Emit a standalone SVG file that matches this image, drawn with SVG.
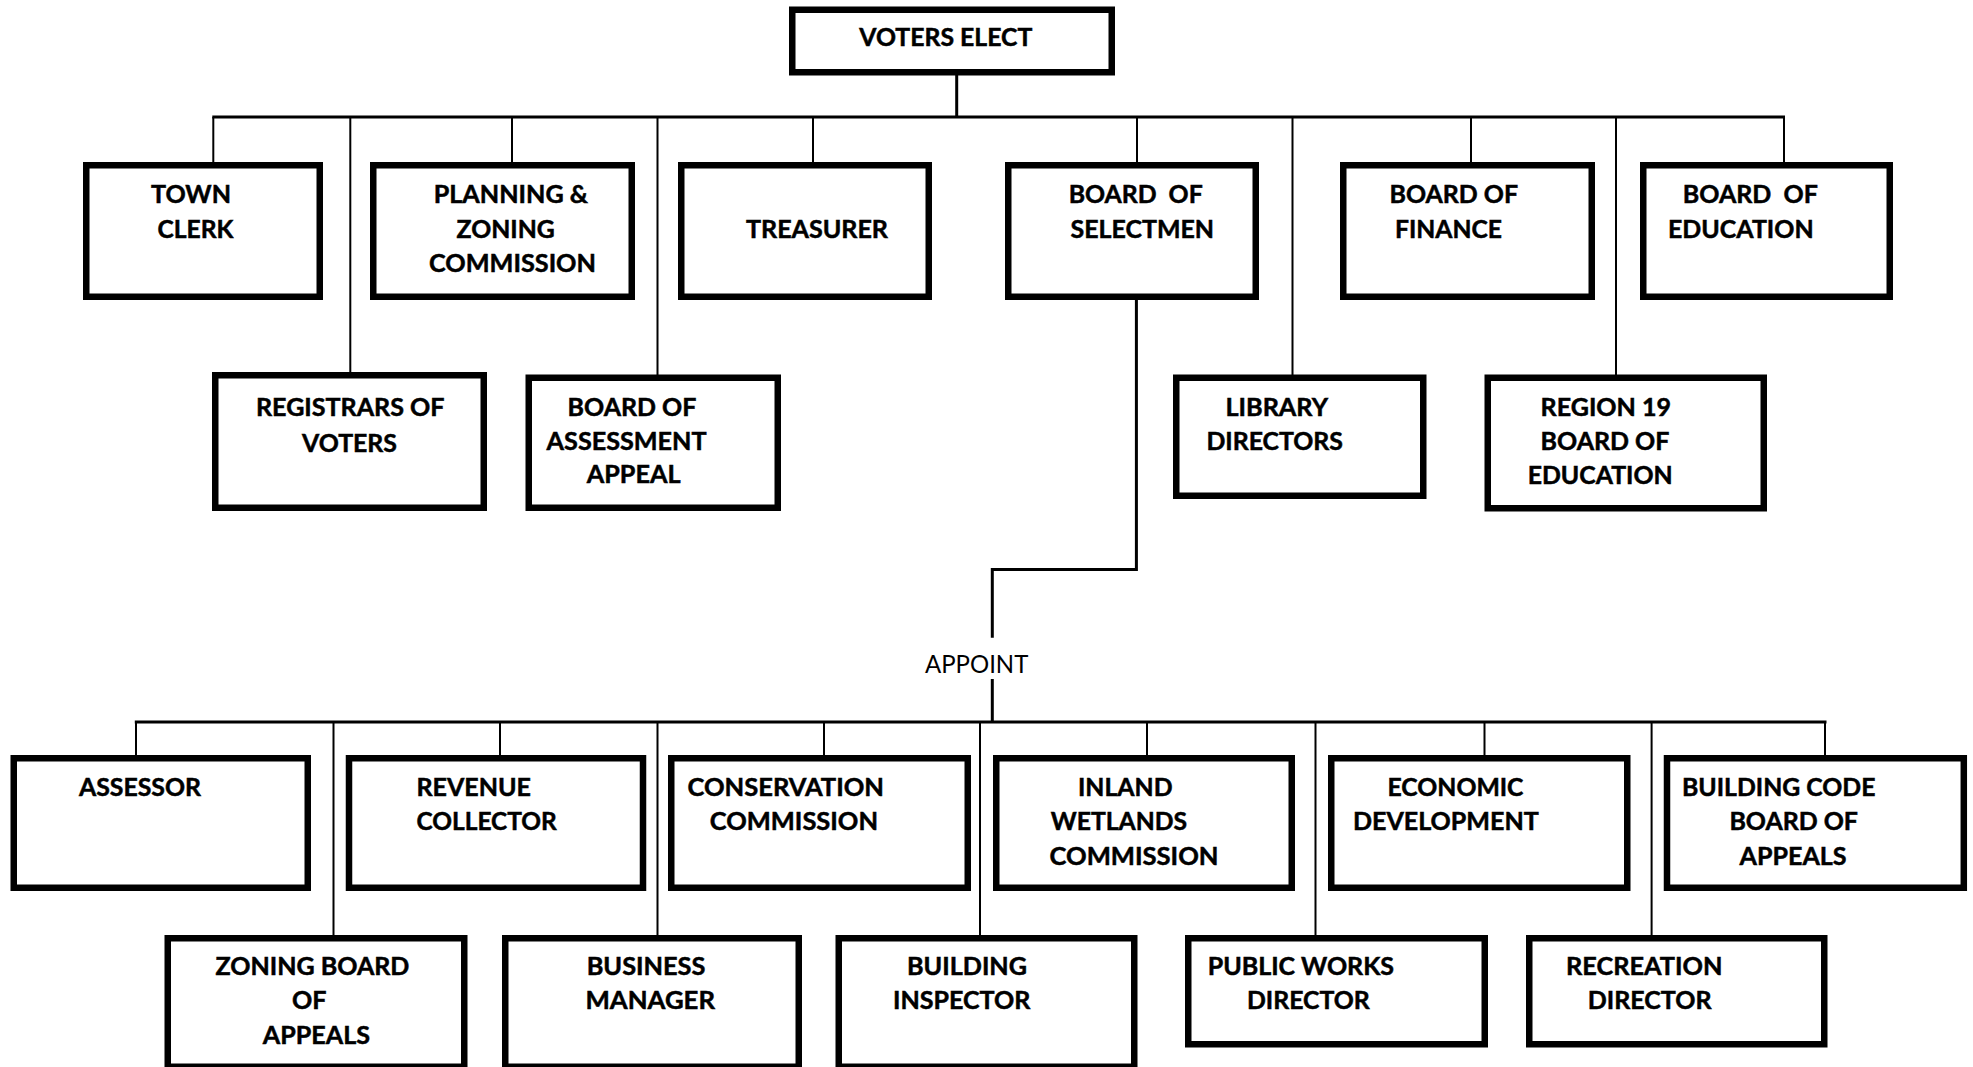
<svg xmlns="http://www.w3.org/2000/svg" width="1973" height="1067" viewBox="0 0 1973 1067">
<style>
.box{fill:#fff;stroke:#000;stroke-width:6.5}
.t{font-family:Lato,"Open Sans","Liberation Sans",sans-serif;font-weight:700;font-size:25px;fill:#000;stroke:#000;stroke-width:0.5}
.n{font-family:Lato,"Open Sans","Liberation Sans",sans-serif;font-weight:400;font-size:25px;fill:#000}
.c line,.c polyline{stroke:#000;stroke-width:2;fill:none}
.c .bus{stroke-width:3}
</style>
<rect width="1973" height="1067" fill="#fff"/>
<g id="connectors" class="c">
<line class="bus" x1="956.7" y1="75" x2="956.7" y2="117"/>
<line class="bus" x1="212.3" y1="117" x2="1785" y2="117"/>
<line x1="213.3" y1="117" x2="213.3" y2="163"/>
<line x1="350.3" y1="117" x2="350.3" y2="373"/>
<line x1="512" y1="117" x2="512" y2="163"/>
<line x1="657.5" y1="117" x2="657.5" y2="375"/>
<line x1="813" y1="117" x2="813" y2="163"/>
<line x1="1137" y1="117" x2="1137" y2="163"/>
<line x1="1292.5" y1="117" x2="1292.5" y2="375"/>
<line x1="1471" y1="117" x2="1471" y2="163"/>
<line x1="1616" y1="117" x2="1616" y2="375"/>
<line x1="1784" y1="117" x2="1784" y2="163"/>
<polyline class="bus" points="1136.4,299 1136.4,569.5 992.3,569.5 992.3,637.7"/>
<line class="bus" x1="992.3" y1="679" x2="992.3" y2="722"/>
<line class="bus" x1="134.8" y1="722" x2="1826.5" y2="722"/>
<line x1="136" y1="722" x2="136" y2="756"/>
<line x1="333.5" y1="722" x2="333.5" y2="936"/>
<line x1="500" y1="722" x2="500" y2="756"/>
<line x1="657.5" y1="722" x2="657.5" y2="936"/>
<line x1="824" y1="722" x2="824" y2="756"/>
<line x1="980" y1="722" x2="980" y2="936"/>
<line x1="1147" y1="722" x2="1147" y2="756"/>
<line x1="1315.5" y1="722" x2="1315.5" y2="936"/>
<line x1="1484.5" y1="722" x2="1484.5" y2="756"/>
<line x1="1651.6" y1="722" x2="1651.6" y2="936"/>
<line x1="1825" y1="722" x2="1825" y2="756"/>
<text class="n" x="925" y="672.7" textLength="103.3" lengthAdjust="spacingAndGlyphs">APPOINT</text>
</g>
<g id="voters-elect"><rect class="box" x="792.25" y="9.75" width="319.5" height="62.5"/>
<text class="t" x="859.3" y="45.5" textLength="173" lengthAdjust="spacingAndGlyphs">VOTERS ELECT</text></g>
<g id="town-clerk"><rect class="box" x="86.25" y="165.25" width="233.5" height="131.5"/>
<text class="t" x="151" y="203" textLength="80" lengthAdjust="spacingAndGlyphs">TOWN</text>
<text class="t" x="157.5" y="238" textLength="76" lengthAdjust="spacingAndGlyphs">CLERK</text></g>
<g id="planning-zoning"><rect class="box" x="373.25" y="165.25" width="258.5" height="131.5"/>
<text class="t" x="433.7" y="203" textLength="154.3" lengthAdjust="spacingAndGlyphs">PLANNING &amp;</text>
<text class="t" x="456.6" y="238" textLength="98.2" lengthAdjust="spacingAndGlyphs">ZONING</text>
<text class="t" x="429" y="272" textLength="167" lengthAdjust="spacingAndGlyphs">COMMISSION</text></g>
<g id="treasurer"><rect class="box" x="681.25" y="165.25" width="247.5" height="131.5"/>
<text class="t" x="746" y="238" textLength="142" lengthAdjust="spacingAndGlyphs">TREASURER</text></g>
<g id="board-of-selectmen"><rect class="box" x="1008.25" y="165.25" width="247.5" height="131.5"/>
<text class="t" x="1068.7" y="203" textLength="134" lengthAdjust="spacingAndGlyphs" xml:space="preserve">BOARD  OF</text>
<text class="t" x="1070.6" y="238" textLength="143.4" lengthAdjust="spacingAndGlyphs">SELECTMEN</text></g>
<g id="board-of-finance"><rect class="box" x="1343.25" y="165.25" width="248.5" height="131.5"/>
<text class="t" x="1389.5" y="203" textLength="128.5" lengthAdjust="spacingAndGlyphs">BOARD OF</text>
<text class="t" x="1395" y="238" textLength="107" lengthAdjust="spacingAndGlyphs">FINANCE</text></g>
<g id="board-of-education"><rect class="box" x="1643.25" y="165.25" width="246.5" height="131.5"/>
<text class="t" x="1682.8" y="203" textLength="135" lengthAdjust="spacingAndGlyphs" xml:space="preserve">BOARD  OF</text>
<text class="t" x="1668" y="238" textLength="145.6" lengthAdjust="spacingAndGlyphs">EDUCATION</text></g>
<g id="registrars-of-voters"><rect class="box" x="215.25" y="375.25" width="268.5" height="132.5"/>
<text class="t" x="256" y="416" textLength="188.5" lengthAdjust="spacingAndGlyphs">REGISTRARS OF</text>
<text class="t" x="302" y="452" textLength="95" lengthAdjust="spacingAndGlyphs">VOTERS</text></g>
<g id="board-of-assessment-appeal"><rect class="box" x="528.75" y="377.75" width="249" height="130"/>
<text class="t" x="567.6" y="416" textLength="128.8" lengthAdjust="spacingAndGlyphs">BOARD OF</text>
<text class="t" x="546.6" y="449.5" textLength="160" lengthAdjust="spacingAndGlyphs">ASSESSMENT</text>
<text class="t" x="586.7" y="483" textLength="93.8" lengthAdjust="spacingAndGlyphs">APPEAL</text></g>
<g id="library-directors"><rect class="box" x="1176.25" y="377.75" width="247" height="118"/>
<text class="t" x="1225.5" y="416" textLength="102.5" lengthAdjust="spacingAndGlyphs">LIBRARY</text>
<text class="t" x="1206.4" y="449.5" textLength="136.6" lengthAdjust="spacingAndGlyphs">DIRECTORS</text></g>
<g id="region-19"><rect class="box" x="1487.75" y="377.75" width="276" height="130.5"/>
<text class="t" x="1540.6" y="416" textLength="130.4" lengthAdjust="spacingAndGlyphs">REGION 19</text>
<text class="t" x="1540.6" y="449.5" textLength="128.8" lengthAdjust="spacingAndGlyphs">BOARD OF</text>
<text class="t" x="1527.7" y="484" textLength="145" lengthAdjust="spacingAndGlyphs">EDUCATION</text></g>
<g id="assessor"><rect class="box" x="13.75" y="758.25" width="294" height="129.5"/>
<text class="t" x="79" y="796" textLength="122" lengthAdjust="spacingAndGlyphs">ASSESSOR</text></g>
<g id="revenue-collector"><rect class="box" x="349" y="758.25" width="294" height="129.5"/>
<text class="t" x="416.5" y="796" textLength="114.5" lengthAdjust="spacingAndGlyphs">REVENUE</text>
<text class="t" x="416.5" y="829.7" textLength="140.3" lengthAdjust="spacingAndGlyphs">COLLECTOR</text></g>
<g id="conservation-commission"><rect class="box" x="671.25" y="758.25" width="296.5" height="129.5"/>
<text class="t" x="687.5" y="796" textLength="196.5" lengthAdjust="spacingAndGlyphs">CONSERVATION</text>
<text class="t" x="709.8" y="829.7" textLength="168.2" lengthAdjust="spacingAndGlyphs">COMMISSION</text></g>
<g id="inland-wetlands"><rect class="box" x="996.25" y="758.25" width="295.5" height="129.5"/>
<text class="t" x="1078" y="796" textLength="94.6" lengthAdjust="spacingAndGlyphs">INLAND</text>
<text class="t" x="1050.8" y="829.7" textLength="136.2" lengthAdjust="spacingAndGlyphs">WETLANDS</text>
<text class="t" x="1049.5" y="865.4" textLength="169" lengthAdjust="spacingAndGlyphs">COMMISSION</text></g>
<g id="economic-development"><rect class="box" x="1331.25" y="758.25" width="296" height="129.5"/>
<text class="t" x="1387.5" y="796" textLength="136" lengthAdjust="spacingAndGlyphs">ECONOMIC</text>
<text class="t" x="1353" y="829.7" textLength="185.7" lengthAdjust="spacingAndGlyphs">DEVELOPMENT</text></g>
<g id="building-code-board"><rect class="box" x="1667" y="758.25" width="296.8" height="129.5"/>
<text class="t" x="1682" y="796" textLength="193.4" lengthAdjust="spacingAndGlyphs">BUILDING CODE</text>
<text class="t" x="1729.4" y="829.7" textLength="128.6" lengthAdjust="spacingAndGlyphs">BOARD OF</text>
<text class="t" x="1739.6" y="865.4" textLength="107" lengthAdjust="spacingAndGlyphs">APPEALS</text></g>
<g id="zoning-board"><rect class="box" x="167.75" y="938.25" width="296.5" height="128.5"/>
<text class="t" x="215.6" y="975.3" textLength="193.8" lengthAdjust="spacingAndGlyphs">ZONING BOARD</text>
<text class="t" x="292" y="1009" textLength="34.5" lengthAdjust="spacingAndGlyphs">OF</text>
<text class="t" x="262.8" y="1044" textLength="107.2" lengthAdjust="spacingAndGlyphs">APPEALS</text></g>
<g id="business-manager"><rect class="box" x="505.25" y="938.25" width="293.5" height="128.5"/>
<text class="t" x="586.7" y="975.3" textLength="118.7" lengthAdjust="spacingAndGlyphs">BUSINESS</text>
<text class="t" x="585.5" y="1008.5" textLength="129.5" lengthAdjust="spacingAndGlyphs">MANAGER</text></g>
<g id="building-inspector"><rect class="box" x="838.75" y="938.25" width="295.5" height="128.5"/>
<text class="t" x="907" y="975.3" textLength="120" lengthAdjust="spacingAndGlyphs">BUILDING</text>
<text class="t" x="893" y="1008.5" textLength="137.4" lengthAdjust="spacingAndGlyphs">INSPECTOR</text></g>
<g id="public-works-director"><rect class="box" x="1188.25" y="938.25" width="296.5" height="106"/>
<text class="t" x="1207.7" y="975.3" textLength="186.3" lengthAdjust="spacingAndGlyphs">PUBLIC WORKS</text>
<text class="t" x="1247" y="1008.5" textLength="122.7" lengthAdjust="spacingAndGlyphs">DIRECTOR</text></g>
<g id="recreation-director"><rect class="box" x="1529.25" y="938.25" width="295" height="106"/>
<text class="t" x="1566" y="975.3" textLength="156.4" lengthAdjust="spacingAndGlyphs">RECREATION</text>
<text class="t" x="1587.8" y="1008.5" textLength="123.7" lengthAdjust="spacingAndGlyphs">DIRECTOR</text></g>
</svg>
